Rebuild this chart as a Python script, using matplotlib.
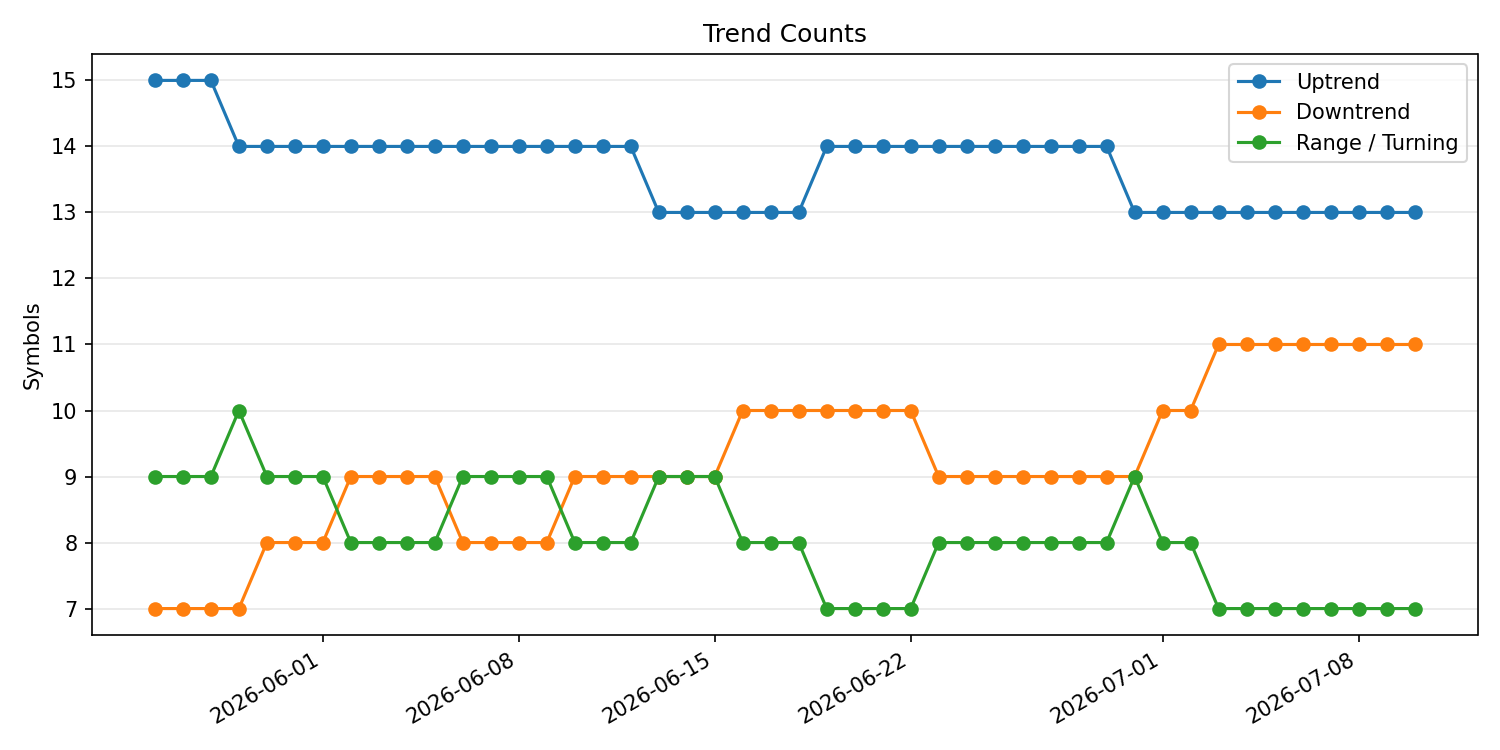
import numpy as np
import pandas as pd
import matplotlib
matplotlib.use("Agg")
import matplotlib.pyplot as plt
import matplotlib.dates as mdates

# daily dates
dates = pd.date_range("2026-05-26", "2026-07-10", freq="D")

uptrend = [15, 15, 15] + [14] * 15 + [13] * 6 + [14] * 11 + [13] * 11
downtrend = [7] * 4 + [8] * 3 + [9] * 4 + [8] * 4 + [9] * 6 + [10] * 7 + [9] * 8 + [10] * 2 + [11] * 8
range_turning = ([9] * 3 + [10] + [9] * 3 + [8] * 4 + [9] * 4 + [8] * 3 + [9] * 3
                 + [8] * 3 + [7] * 4 + [8] * 7 + [9] + [8] * 2 + [7] * 8)

fig, ax = plt.subplots(figsize=(10, 5), dpi=150)
ax.plot(dates, uptrend, marker="o", label="Uptrend")
ax.plot(dates, downtrend, marker="o", label="Downtrend")
ax.plot(dates, range_turning, marker="o", label="Range / Turning")

ax.set_title("Trend Counts")
ax.set_ylabel("Symbols")
ax.grid(axis="y", alpha=0.3)
ax.legend(loc="upper right")
fig.autofmt_xdate()

plt.tight_layout()
plt.savefig("out.png", dpi=150)
